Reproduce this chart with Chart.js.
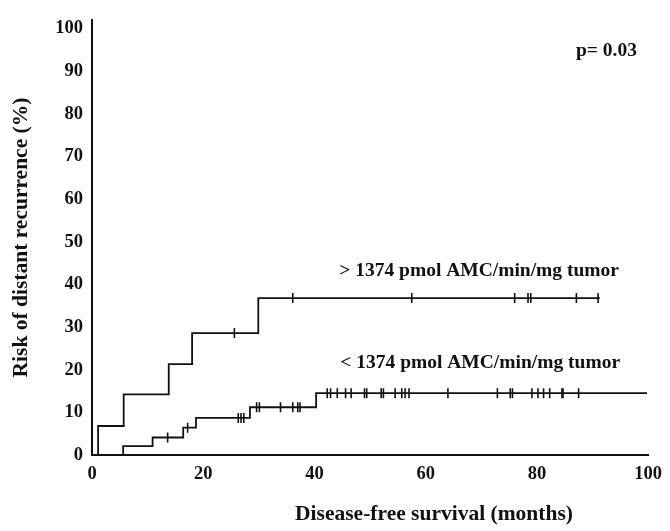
<!DOCTYPE html>
<html>
<head>
<meta charset="utf-8">
<script src="https://cdn.jsdelivr.net/npm/chart.js@4.4.1/dist/chart.umd.min.js"></script>
<style>
    html, body { margin: 0; padding: 0; background: #fff; }
    #wrap { width: 670px; height: 531px; }
</style>
</head>
<body>
<div id="wrap"><canvas id="km"></canvas></div>
<script>
// kaplan-meier steps (months, % risk)
const highTimes = [0, 1.1, 5.7, 13.8, 18.0, 29.9, 91.3]
const highRisk = [0, 6.8, 14.2, 21.3, 28.6, 36.8, 36.8]
const highCensor = [25.6, 36.1, 57.5, 76.0, 78.4, 78.9, 87.1, 91.0]

const lowTimes = [0, 5.6, 10.9, 16.4, 18.7, 28.4, 40.3, 99.8]
const lowRisk = [0, 2.1, 4.1, 6.4, 8.7, 11.2, 14.5, 14.5]
const lowCensor = [13.6, 17.2, 26.3, 26.8, 27.3, 29.6, 30.1, 33.9, 36.1, 37.0, 37.4,
    42.3, 42.9, 44.1, 45.6, 46.6, 49.0, 49.4, 52.0, 52.4, 54.5, 55.7, 56.3, 57.0,
    64.0, 72.9, 75.2, 75.6, 79.1, 80.2, 81.2, 82.3, 84.5, 84.7, 87.5]

const xTicks = [0, 20, 40, 60, 80, 100]
const yTicks = [0, 10, 20, 30, 40, 50, 60, 70, 80, 90, 100]

const noteTexts = ["> 1374 pmol AMC/min/mg tumor", "< 1374 pmol AMC/min/mg tumor", "p= 0.03"]
const noteX = [69.6, 69.8, 92.5]
const noteY = [43.2, 21.5, 94.7]

const xTitle = "Disease-free survival (months)"
const yTitle = "Risk of distant recurrence (%)"

const serif = "'Liberation Serif', 'Times New Roman', serif"

// level of the step curve at time t
function levelAt(times, risk, t) {
    let v = 0
    for (let i = 0; i < times.length; i++) {
        if (times[i] <= t) v = risk[i]
    }
    return v
}

const toPoints = (xs, ys) => xs.map((x, i) => ({ x: x, y: ys[i] }))

const notesPlugin = {
    id: "notes",
    afterDraw(chart) {
        const ctx = chart.ctx
        const xs = chart.scales.x
        const ys = chart.scales.y
        ctx.save()
        ctx.fillStyle = "#111"
        ctx.textAlign = "center"
        ctx.textBaseline = "middle"
        ctx.font = "bold 19.5px " + serif
        noteTexts.forEach((t, i) => {
            ctx.fillText(t, xs.getPixelForValue(noteX[i]), ys.getPixelForValue(noteY[i]))
        })
        // x title sits under the 60 label in the original, not centred
        ctx.font = "bold 21.5px " + serif
        ctx.fillText(xTitle, xs.getPixelForValue(61.5), xs.bottom - 17)
        ctx.restore()
    }
}

const curveStyle = {
    type: "line",
    stepped: "before",
    borderColor: "#111",
    borderWidth: 1.8,
    pointRadius: 0,
    fill: false
}

const censorStyle = {
    type: "scatter",
    pointStyle: "line",
    rotation: 90,
    radius: 5,
    borderColor: "#111",
    borderWidth: 1.6
}

new Chart(document.getElementById("km"), {
    data: {
        datasets: [
            { ...curveStyle, label: "high", data: toPoints(highTimes, highRisk) },
            { ...curveStyle, label: "low", data: toPoints(lowTimes, lowRisk) },
            { ...censorStyle, label: "high censored", data: highCensor.map(t => ({ x: t, y: levelAt(highTimes, highRisk, t) })) },
            { ...censorStyle, label: "low censored", data: lowCensor.map(t => ({ x: t, y: levelAt(lowTimes, lowRisk, t) })) }
        ]
    },
    options: {
        responsive: true,
        maintainAspectRatio: false,
        animation: false,
        layout: { padding: { top: 13, right: 16, left: 0, bottom: 0 } },
        plugins: {
            legend: { display: false },
            tooltip: { enabled: false }
        },
        scales: {
            x: {
                type: "linear",
                min: 0,
                max: 100,
                afterBuildTicks: s => { s.ticks = xTicks.map(v => ({ value: v })) },
                afterFit: s => { s.height = 76 },
                grid: { display: false, drawTicks: false },
                border: { color: "#111", width: 2 },
                ticks: { color: "#111", padding: 8, maxRotation: 0, font: { family: serif, size: 18.5, weight: "bold" } },
                title: { display: false }
            },
            y: {
                type: "linear",
                min: 0,
                max: 102,
                afterBuildTicks: s => { s.ticks = yTicks.map(v => ({ value: v })) },
                afterFit: s => { s.width = 92 },
                grid: { display: false, drawTicks: false },
                border: { color: "#111", width: 2 },
                ticks: { color: "#111", padding: 9, font: { family: serif, size: 18.5, weight: "bold" } },
                title: {
                    display: true,
                    text: yTitle,
                    color: "#111",
                    padding: { top: 9, bottom: 0 },
                    font: { family: serif, size: 21.5, weight: "bold" }
                }
            }
        }
    },
    plugins: [notesPlugin]
})
</script>
</body>
</html>
